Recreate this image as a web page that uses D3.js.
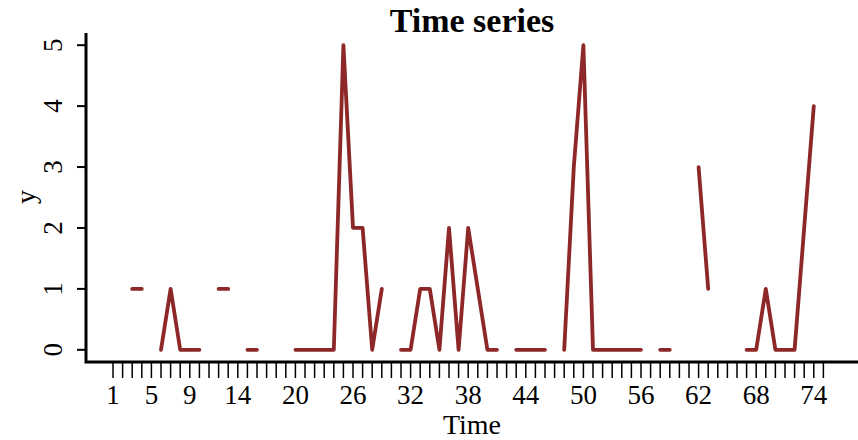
<!DOCTYPE html>
<html>
<head>
<meta charset="utf-8">
<script src="https://cdn.jsdelivr.net/npm/d3@7"></script>
<style>
  body { margin: 0; background: #fff; }
  svg { display: block; font-family: "Liberation Serif", "Times New Roman", serif; }
</style>
</head>
<body>
<div id="chart"></div>
<script>
const width = 858;
const height = 440;

// time index 1..75, null = missing
const times = d3.range(1, 76);
const values = [
  null, null, 1, 1, null, 0, 1, 0, 0, 0,
  null, 1, 1, null, 0, 0, null, null, null, 0,
  0, 0, 0, 0, 5, 2, 2, 0, 1, null,
  0, 0, 1, 1, 0, 2, 0, 2, 1, 0,
  0, null, 0, 0, 0, 0, null, 0, 3, 5,
  0, 0, 0, 0, 0, 0, null, 0, 0, null,
  null, 3, 1, null, null, null, 0, 0, 1, 0,
  0, 0, 2, 4, null
];
const xLabels = [1, 5, 9, 14, 20, 26, 32, 38, 44, 50, 56, 62, 68, 74];
const yTicks = [0, 1, 2, 3, 4, 5];

const data = times.map((t, i) => ({ t: t, v: values[i] }));

const svg = d3.select("#chart")
    .append("svg")
    .attr("width", width)
    .attr("height", height);

// R-style 4% range extension
const xPad = (75 - 1) * 0.04;
const x = d3.scaleLinear()
    .domain([1 - xPad, 75 + xPad])
    .range([84.6, 851.8]);

const yPad = 5 * 0.04;
const y = d3.scaleLinear()
    .domain([0 - yPad, 5 + yPad])
    .range([362, 33]);

const lineColor = "#8E2727";

// L-shaped frame
svg.append("path")
    .attr("d", "M" + 86 + "," + y.range()[1] + "V" + 362 + "H" + width)
    .attr("fill", "none")
    .attr("stroke", "#000")
    .attr("stroke-width", 3);

// x ticks every step, labels only on some
svg.append("g")
    .selectAll("line")
    .data(times)
    .join("line")
    .attr("x1", d => x(d))
    .attr("x2", d => x(d))
    .attr("y1", 362)
    .attr("y2", 378)
    .attr("stroke", "#000")
    .attr("stroke-width", 1.5);

svg.append("g")
    .selectAll("text")
    .data(xLabels)
    .join("text")
    .attr("x", d => x(d))
    .attr("y", 404)
    .attr("text-anchor", "middle")
    .attr("font-size", 27)
    .text(d => d);

// y ticks
svg.append("g")
    .selectAll("line")
    .data(yTicks)
    .join("line")
    .attr("x1", 77)
    .attr("x2", 86)
    .attr("y1", d => y(d))
    .attr("y2", d => y(d))
    .attr("stroke", "#000")
    .attr("stroke-width", 2);

svg.append("g")
    .selectAll("text")
    .data(yTicks)
    .join("text")
    .attr("transform", d => "translate(62," + y(d) + ") rotate(-90)")
    .attr("text-anchor", "middle")
    .attr("font-size", 27)
    .text(d => d);

// the series, broken at missing values
const line = d3.line()
    .defined(d => d.v !== null)
    .x(d => x(d.t))
    .y(d => y(d.v));

svg.append("path")
    .datum(data)
    .attr("d", line)
    .attr("fill", "none")
    .attr("stroke", lineColor)
    .attr("stroke-width", 3.8)
    .attr("stroke-linecap", "round")
    .attr("stroke-linejoin", "round");

// titles
svg.append("text")
    .attr("x", 472)
    .attr("y", 32)
    .attr("text-anchor", "middle")
    .attr("font-size", 34)
    .attr("font-weight", "bold")
    .text("Time series");

svg.append("text")
    .attr("x", 472)
    .attr("y", 434)
    .attr("text-anchor", "middle")
    .attr("font-size", 28)
    .text("Time");

svg.append("text")
    .attr("transform", "translate(35,197) rotate(-90)")
    .attr("text-anchor", "middle")
    .attr("font-size", 28)
    .text("y");
</script>
</body>
</html>
